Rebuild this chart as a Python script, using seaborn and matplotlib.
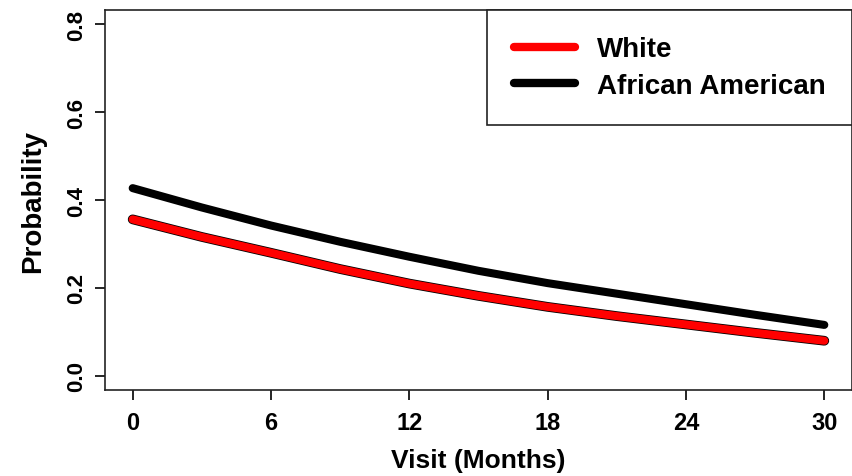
import pandas as pd
import matplotlib
matplotlib.use("Agg")
import matplotlib.pyplot as plt
import matplotlib.patheffects as pe
from matplotlib.lines import Line2D
import seaborn as sns

# values
months = [0, 3, 6, 9, 12, 15, 18, 21, 24, 27, 30]
white_prob = [0.356, 0.316, 0.280, 0.243, 0.210, 0.182, 0.157, 0.136, 0.117, 0.098, 0.080]
black_prob = [0.427, 0.383, 0.342, 0.305, 0.271, 0.239, 0.211, 0.187, 0.163, 0.139, 0.116]
group_names = ["White", "African American"]
group_colors = ["#ff0000", "#000000"]
x_ticks = [0, 6, 12, 18, 24, 30]
y_ticks = [0.0, 0.2, 0.4, 0.6, 0.8]


def plotProbability():
    sns.set_style("ticks")
    plt.rcParams['font.family'] = ['Liberation Sans', 'DejaVu Sans']
    plt.rcParams['text.color'] = 'black'
    plt.rcParams['axes.labelcolor'] = 'black'
    plt.rcParams['xtick.color'] = 'black'
    plt.rcParams['ytick.color'] = 'black'

    df = pd.DataFrame({
        "month": months * 2,
        "prob": white_prob + black_prob,
        "group": [group_names[0]] * len(months) + [group_names[1]] * len(months),
    })

    fig = plt.figure(figsize=(8.53, 4.77), dpi=100)
    ax = fig.add_axes([0.1231, 0.1803, 0.8757, 0.7966])

    sns.lineplot(data=df, x="month", y="prob", hue="group", hue_order=group_names,
                 palette=dict(zip(group_names, group_colors)), linewidth=5.8,
                 legend=False, ax=ax)

    for line in ax.get_lines():
        line.set_solid_capstyle("round")
    # red curve has a thin dark rim in the original
    ax.get_lines()[0].set_path_effects([pe.Stroke(linewidth=7.0, foreground="black"), pe.Normal()])

    ax.set_xlim(-1.2, 31.2)
    ax.set_ylim(-0.032, 0.832)
    ax.set_xticks(x_ticks)
    ax.set_xticklabels([str(t) for t in x_ticks], fontsize=17, fontweight="bold")
    ax.set_yticks(y_ticks)
    ax.set_yticklabels([f"{t:.1f}" for t in y_ticks], fontsize=16, fontweight="bold",
                       rotation=90, va="center")
    ax.tick_params(axis="both", direction="out", length=7, width=1.2, colors="black")
    ax.tick_params(axis="x", pad=8)
    ax.tick_params(axis="y", pad=6)

    for s in ax.spines.values():
        s.set_visible(True)
        s.set_linewidth(1.2)
        s.set_color("#222222")

    ax.set_xlabel("Visit (Months)", fontsize=19, fontweight="bold", labelpad=10)
    ax.set_ylabel("Probability", fontsize=20, fontweight="bold", labelpad=14)

    handles = [Line2D([0], [0], color=c, linewidth=6, solid_capstyle="round") for c in group_colors]
    leg = ax.legend(handles, group_names, loc="upper right", borderaxespad=0,
                    prop={"family": "Liberation Sans", "weight": "bold", "size": 20},
                    frameon=True, fancybox=False, edgecolor="#222222", framealpha=1,
                    handlelength=2.2, handletextpad=0.8, borderpad=0.95, labelspacing=0.38)
    leg.get_frame().set_linewidth(1.2)

    fig.savefig("out.png", dpi=100)
    plt.close(fig)


if __name__ == "__main__":
    plotProbability()
